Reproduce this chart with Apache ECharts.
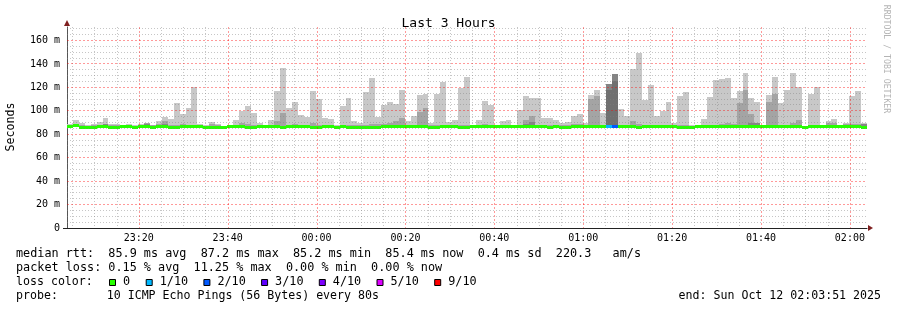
<!DOCTYPE html>
<html><head><meta charset="utf-8">
<script src="https://cdn.jsdelivr.net/npm/echarts@6/dist/echarts.min.js"></script>
<style>html,body{margin:0;padding:0;background:#fff}#c{width:897px;height:310px}</style>
</head><body><div id="c"></div>
<script>
// ---- data (80 s steps, 23:03:51 -> 02:03:51) ----
const startMinutes = -56.15;   // 23:03:51 relative to 00:00
const endMinutes = 123.85;     // 02:03:51
const stepMinutes = 80 / 60;

// top of the lightest smoke (max ping), ms
const maxPing = [88.8,92.2,90.0,87.5,88.8,90.5,94.0,88.8,88.8,88.2,88.8,87.7,88.8,89.6,88.2,91.3,94.7,93.0,106.7,97.3,
102.4,120.0,88.8,87.7,90.5,88.8,87.4,87.4,92.2,99.9,104.0,98.0,89.7,88.2,92.2,117.2,136.5,102.4,107.5,96.2,
95.0,117.2,110.4,94.2,93.3,87.5,104.0,111.0,91.3,90.0,116.0,128.0,95.0,105.0,107.5,105.8,117.7,91.0,95.6,113.5,
114.6,90.0,114.6,124.5,90.5,92.2,119.4,128.8,87.4,92.2,108.4,105.2,88.0,91.3,92.2,88.0,100.8,112.6,111.0,111.0,
94.0,94.0,92.2,89.7,90.5,95.6,97.3,90.0,113.5,117.7,98.0,123.0,131.5,101.6,95.6,135.6,149.2,109.2,122.0,95.6,
99.9,107.5,90.0,112.6,116.0,88.0,88.0,93.0,111.8,126.0,127.0,128.0,111.0,116.9,132.2,111.0,107.5,88.0,113.5,128.8,
106.7,117.7,132.2,120.3,87.4,114.6,120.3,88.0,91.3,93.0,88.0,89.7,112.6,116.9,89.7];
// top of the second smoke layer
const midPing = [87.5,88.0,87.5,87.0,87.5,88.0,88.8,87.5,87.5,87.5,87.5,87.0,87.5,89.6,87.5,88.5,91.3,88.0,88.0,88.5,
88.0,88.0,87.5,87.0,89.0,88.2,87.0,87.0,88.0,89.5,88.5,88.0,88.0,87.5,88.0,91.6,98.2,88.0,88.5,88.0,
88.0,89.6,88.0,88.0,88.0,87.0,88.0,88.0,88.0,88.0,88.0,88.5,88.5,88.8,89.9,91.3,93.9,88.0,88.0,99.0,
102.4,88.0,87.7,88.0,88.0,88.0,88.0,88.0,87.0,88.0,88.5,88.0,87.0,88.2,88.0,87.0,88.0,92.2,95.6,88.0,
88.0,88.0,88.0,87.5,88.0,88.5,88.5,88.0,110.0,112.6,88.0,122.8,131.3,88.0,88.0,91.3,88.5,88.0,88.0,88.0,
88.0,88.0,88.0,88.3,88.0,87.0,87.0,88.0,88.0,88.0,88.8,89.6,88.8,106.7,117.7,97.3,89.6,87.0,107.5,114.6,
88.0,88.0,89.6,92.2,87.0,88.0,88.0,87.0,89.6,89.6,87.5,88.5,88.5,88.5,89.0];
// top of the third smoke layer (0 = none)
const darkPing = [0,0,0,0,0,0,88.5,0,0,0,0,0,0,88.8,0,0,89.0,0,0,88.2,
0,0,0,0,0,0,0,0,0,0,0,0,0,0,0,0,0,0,0,0,
0,0,0,0,0,0,0,0,0,0,0,0,0,0,0,0,0,0,0,0,
0,0,0,0,0,0,0,0,0,0,0,0,0,0,0,0,0,88.5,90.5,0,
0,0,0,0,0,0,0,0,0,0,0,122.8,131.3,0,0,0,0,0,0,0,
0,0,0,0,0,0,0,0,0,0,0,0,0,0,0,89.5,89.6,0,0,0,
0,0,0,0,0,0,0,0,0,0,0,0,0,0,88.8];
// top of the innermost smoke layer (0 = none)
const corePing = [0,0,0,0,0,0,0,0,0,0,0,0,0,0,0,0,0,0,0,0,
0,0,0,0,0,0,0,0,0,0,0,0,0,0,0,0,0,0,0,0,
0,0,0,0,0,0,0,0,0,0,0,0,0,0,0,0,0,0,0,0,
0,0,0,0,0,0,0,0,0,0,0,0,0,0,0,0,0,0,0,0,
0,0,0,0,0,0,0,0,0,0,0,117.7,125.4,0,0,0,0,0,0,0,
0,0,0,0,0,0,0,0,0,0,0,0,0,0,0,0,0,0,0,0,
0,0,0,0,0,0,0,0,0,0,0,0,0,0,0];
// median rtt, ms
const medianRtt = [86.0,86.7,85.4,85.3,85.5,86.5,86.2,85.4,85.4,85.9,86.0,85.3,86.6,86.5,85.4,85.9,86.4,85.3,85.4,86.0,
86.1,85.9,86.6,85.4,85.5,85.4,85.3,85.9,86.4,86.6,85.5,85.4,86.0,86.0,85.9,86.0,85.3,86.0,86.5,86.0,
85.9,85.4,85.3,86.0,86.1,85.3,85.9,85.5,85.6,85.5,85.6,85.5,85.6,86.0,86.1,86.0,86.0,85.9,86.0,86.1,
86.0,85.4,85.3,86.0,85.9,86.0,85.5,85.4,85.9,86.0,86.1,85.9,86.0,86.1,86.0,85.9,86.0,86.5,86.6,86.4,
86.5,85.4,85.9,85.3,85.4,86.0,86.1,86.5,86.6,86.5,86.0,86.0,86.0,85.9,86.0,86.1,85.2,86.0,85.9,86.0,
86.1,86.0,85.9,85.5,85.6,85.5,86.4,86.5,86.6,86.5,86.4,86.5,86.0,86.1,86.0,85.9,86.0,86.0,86.1,86.0,
85.9,86.0,86.0,86.1,85.3,86.0,85.9,86.0,86.0,85.9,86.0,86.6,86.0,85.9,85.4];
// lost pings out of 10
const lossTenths = [0,0,0,0,0,0,0,0,0,0,0,0,0,0,0,0,0,0,0,0,
0,0,0,0,0,0,0,0,0,0,0,0,0,0,0,0,0,0,0,0,
0,0,0,0,0,0,0,0,0,0,0,0,0,0,0,0,0,0,0,0,
0,0,0,0,0,0,0,0,0,0,0,0,0,0,0,0,0,0,0,0,
0,0,0,0,0,0,0,0,0,0,0,1,2,0,0,0,0,0,0,0,
0,0,0,0,0,0,0,0,0,0,0,0,0,0,0,0,0,0,0,0,
0,0,0,0,0,0,0,0,0,0,0,0,0,0,0];

const lossKeys = [0, 1, 2, 3, 4, 5, 9];
const lossLabels = ['0', '1/10', '2/10', '3/10', '4/10', '5/10', '9/10'];
const lossColors = ['#26ff00', '#00b8ff', '#0059ff', '#5e00ff', '#7e00ff', '#dd00ff', '#ff0000'];

const xLabelMinutes = [-40, -20, 0, 20, 40, 60, 80, 100, 120];
const xMinorMinutes = [-55,-50,-45,-35,-30,-25,-15,-10,-5,5,10,15,25,30,35,45,50,55,65,70,75,85,90,95,105,110,115];
const yLabelValues = [0, 20, 40, 60, 80, 100, 120, 140, 160];
const yMinorValues = [5,10,15,25,30,35,45,50,55,65,70,75,85,90,95,105,110,115,125,130,135,145,150,155,165,170];

const legendLines = [
  'median rtt:  85.9 ms avg  87.2 ms max  85.2 ms min  85.4 ms now  0.4 ms sd  220.3   am/s',
  'packet loss: 0.15 % avg  11.25 % max  0.00 % min  0.00 % now',
  'loss color:',
  'probe:       10 ICMP Echo Pings (56 Bytes) every 80s'
];
const endText = 'end: Sun Oct 12 02:03:51 2025';

// ---- chart ----
const MONO = '"DejaVu Sans Mono", "Liberation Mono", monospace';
const smokeColors = ['#c8c8c8', '#a4a4a4', '#858585', '#707070'];

function lossColor(n) {
  let idx = 0;
  for (let k = 0; k < lossKeys.length; k++) if (n >= lossKeys[k]) idx = k;
  return lossColors[idx];
}
function fmtTime(m) {
  const t = ((Math.round(m) % 1440) + 1440) % 1440;
  const h = Math.floor(t / 60), mm = t % 60;
  return String(h).padStart(2, '0') + ':' + String(mm).padStart(2, '0');
}

const rows = maxPing.map((v, i) => [
  startMinutes + i * stepMinutes, startMinutes + (i + 1) * stepMinutes,
  v, midPing[i], darkPing[i], corePing[i], medianRtt[i], lossTenths[i]
]);

function smokeRender(params, api) {
  const x0 = Math.round(api.coord([api.value(0), 0])[0]);
  const x1 = Math.round(api.coord([api.value(1), 0])[0]);
  const med = api.value(6);
  const yBase = api.coord([0, med])[1];
  const children = [];
  for (let L = 0; L < 4; L++) {
    const top = api.value(2 + L);
    if (top > med) {
      const yt = Math.round(api.coord([0, top])[1]);
      children.push({type: 'rect', shape: {x: x0, y: yt, width: x1 - x0, height: Math.max(0, yBase - yt)},
        style: {fill: smokeColors[L]}});
    }
  }
  const ym = Math.round(yBase - 2);
  children.push({type: 'rect', shape: {x: x0, y: ym, width: x1 - x0, height: 3},
    style: {fill: lossColor(api.value(7))}});
  return {type: 'group', children};
}

function gridSeries(values, vertical, color, dash) {
  return {
    type: 'custom', silent: true, z: 5, clip: false,
    data: values.map(v => vertical ? [v, 0] : [startMinutes, v]),
    renderItem(params, api) {
      const cs = params.coordSys;
      if (vertical) {
        const x = Math.round(api.coord([api.value(0), 0])[0]) + 0.5;
        return {type: 'line', shape: {x1: x, y1: cs.y, x2: x, y2: cs.y + cs.height},
          style: {stroke: color, lineWidth: 1, lineDash: dash}};
      }
      const y = Math.floor(api.coord([startMinutes, api.value(1)])[1]) + 0.5;
      return {type: 'line', shape: {x1: cs.x, y1: y, x2: cs.x + cs.width, y2: y},
        style: {stroke: color, lineWidth: 1, lineDash: dash}};
    }
  };
}

const WIDE_FONT = '11.8px ' + MONO;
const LEG_FONT = '11.6px ' + MONO;
const graphics = [];
legendLines.forEach((t, i) => {
  graphics.push({type: 'text', x: 16, y: 254 + i * 14,
    style: {text: t, font: i < 2 ? WIDE_FONT : LEG_FONT, fill: '#000', verticalAlign: 'middle'}});
});
graphics.push({type: 'text', x: 881, y: 296,
  style: {text: endText, font: LEG_FONT, fill: '#000', align: 'right', verticalAlign: 'middle'}});
let bx = 109;
lossLabels.forEach((lab, i) => {
  graphics.push({type: 'rect', shape: {x: bx + 0.5, y: 279.5, width: 6, height: 6},
    style: {fill: lossColors[i], stroke: '#000', lineWidth: 1}});
  graphics.push({type: 'text', x: bx + 14, y: 282,
    style: {text: lab, font: WIDE_FONT, fill: '#000', verticalAlign: 'middle'}});
  bx += 14 + lab.length * 7 + 15.7;
});
graphics.push({type: 'text', x: 11, y: 127, rotation: Math.PI / 2,
  style: {text: 'Seconds', font: LEG_FONT, fill: '#000', align: 'center', verticalAlign: 'middle'}});
graphics.push({type: 'text', x: 886, y: 59, rotation: -Math.PI / 2,
  style: {text: 'RRDTOOL / TOBI OETIKER', font: '8.2px ' + MONO, fill: '#b4b4b4', align: 'center', verticalAlign: 'middle'}});
// axis arrows and short axis overhang
graphics.push({type: 'polygon', shape: {points: [[868, 225], [868, 231], [873, 228]]}, style: {fill: '#7f1f1f'}});
graphics.push({type: 'polygon', shape: {points: [[64, 26], [70, 26], [67, 20]]}, style: {fill: '#7f1f1f'}});
graphics.push({type: 'line', shape: {x1: 63, y1: 228.5, x2: 67, y2: 228.5}, style: {stroke: '#222', lineWidth: 1}});

const option = {
  backgroundColor: '#ffffff',
  animation: false,
  title: {text: 'Last 3 Hours', left: 'center', top: 12,
    textStyle: {fontFamily: MONO, fontSize: 13, fontWeight: 'normal', color: '#000'}},
  grid: {left: 67, right: 30, top: 27, bottom: 82},
  xAxis: {
    type: 'value', min: startMinutes, max: endMinutes,
    axisLine: {show: true, onZero: false, lineStyle: {color: '#222', width: 1}},
    axisTick: {show: false},
    splitLine: {show: false},
    axisLabel: {customValues: xLabelMinutes, formatter: v => fmtTime(v),
      fontFamily: MONO, fontSize: 10, color: '#000', margin: 5}
  },
  yAxis: {
    type: 'value', min: 0, max: 171.5,
    axisLine: {show: true, onZero: false, lineStyle: {color: '#555', width: 1}},
    axisTick: {show: false},
    splitLine: {show: false},
    axisLabel: {customValues: yLabelValues, formatter: v => v === 0 ? '0' : v + ' m',
      fontFamily: MONO, fontSize: 10, color: '#000', margin: 7}
  },
  graphic: graphics,
  series: [
    {type: 'custom', name: 'smoke', renderItem: smokeRender, data: rows, z: 2, clip: true,
      encode: {x: [0, 1], y: [2, 6]}},
    gridSeries(yMinorValues, false, 'rgba(128,128,128,0.45)', [1, 2]),
    gridSeries(xMinorMinutes, true, 'rgba(128,128,128,0.45)', [1, 2]),
    gridSeries(yLabelValues.filter(v => v > 0), false, 'rgba(255,0,0,0.4)', [2, 2]),
    gridSeries(xLabelMinutes, true, 'rgba(255,0,0,0.4)', [2, 2])
  ]
};
const chart = echarts.init(document.getElementById('c'));
chart.setOption(option);
</script></body></html>
